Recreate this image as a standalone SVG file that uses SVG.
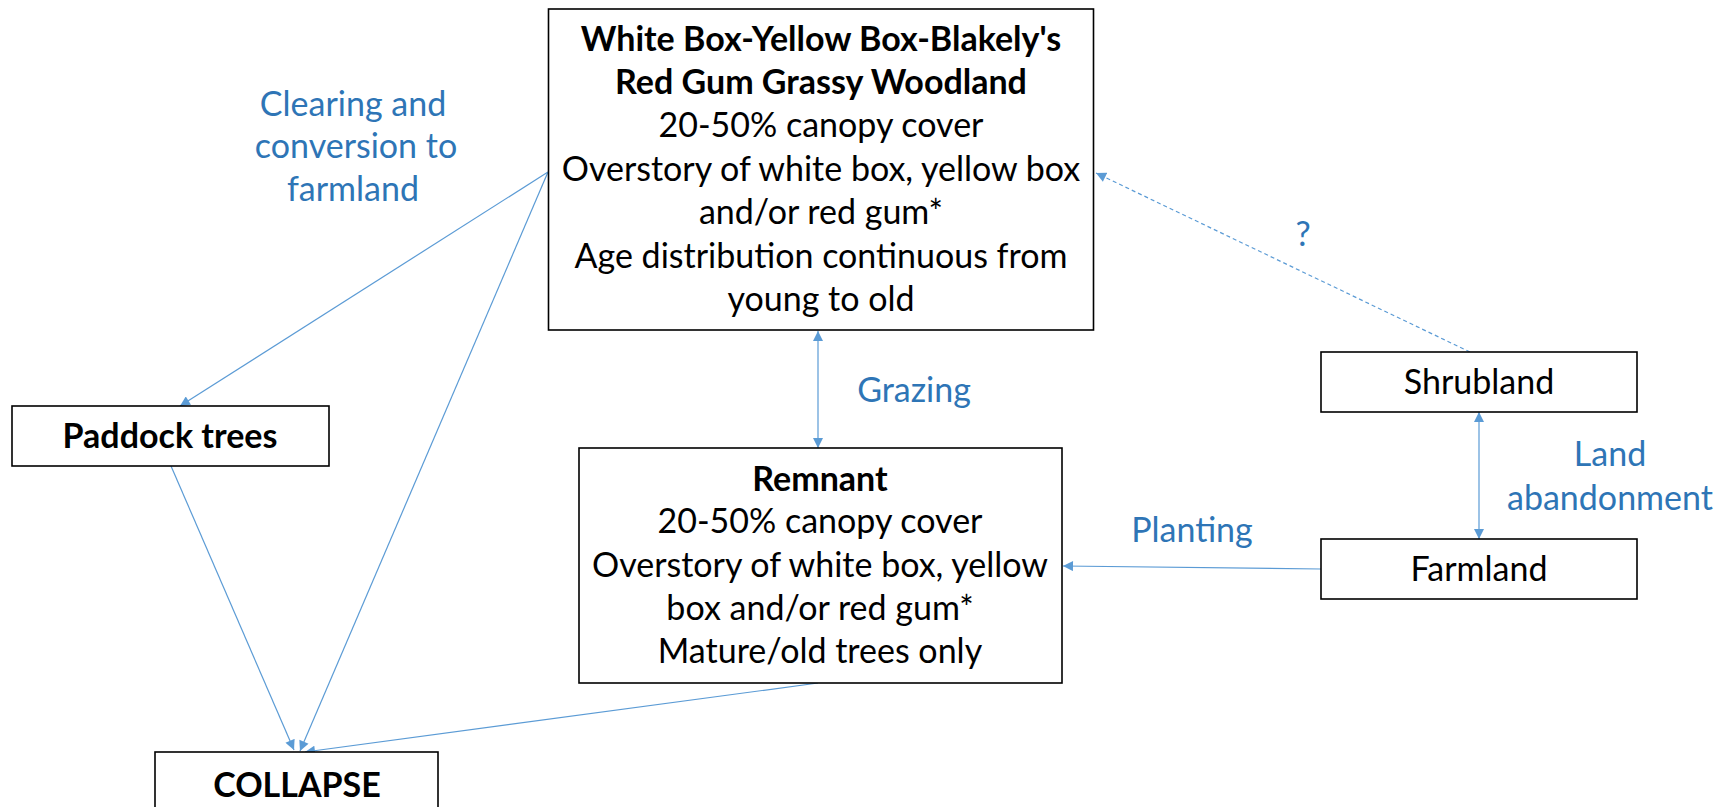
<svg xmlns="http://www.w3.org/2000/svg" width="1727" height="807" viewBox="0 0 1727 807">
<style>
.box{fill:#fff;stroke:#000;stroke-width:1.6}
.t{font-family:Lato,"Liberation Sans",sans-serif;font-size:34px;fill:#000;text-anchor:middle}
.b{font-weight:bold}
.lbl{font-family:Lato,"Liberation Sans",sans-serif;font-size:34px;fill:#2E75B6;text-anchor:middle}
.c{fill:none;stroke:#5B9BD5;stroke-width:1.2}
.d{stroke-dasharray:4 3}
</style>
<defs>
<marker id="ah" viewBox="0 0 10 10" refX="10" refY="5" markerWidth="11" markerHeight="10" markerUnits="userSpaceOnUse" orient="auto-start-reverse">
<path d="M0,0 L10,5 L0,10 z" fill="#5B9BD5"/>
</marker>
</defs>
<rect width="1727" height="807" fill="#fff"/>
<g id="connectors">
<line class="c" x1="548" y1="172" x2="180" y2="406" marker-end="url(#ah)"/>
<line class="c" x1="548" y1="172" x2="300" y2="751" marker-end="url(#ah)"/>
<line class="c" x1="171" y1="466" x2="294" y2="750" marker-end="url(#ah)"/>
<line class="c" x1="818" y1="683" x2="305" y2="752" marker-end="url(#ah)"/>
<line class="c" x1="818" y1="331" x2="818" y2="448" marker-start="url(#ah)" marker-end="url(#ah)"/>
<line class="c d" x1="1470" y1="352" x2="1096" y2="173" marker-end="url(#ah)"/>
<line class="c" x1="1479" y1="412" x2="1479" y2="539" marker-start="url(#ah)" marker-end="url(#ah)"/>
<line class="c" x1="1321" y1="569" x2="1063" y2="566" marker-end="url(#ah)"/>
</g>
<g id="labels">
<text class="lbl" x="353" y="116">Clearing and</text>
<text class="lbl" x="356" y="158">conversion to</text>
<text class="lbl" x="353" y="201">farmland</text>
<text class="lbl" x="1303" y="246">?</text>
<text class="lbl" x="914" y="402">Grazing</text>
<text class="lbl" x="1610" y="466">Land</text>
<text class="lbl" x="1610" y="510">abandonment</text>
<text class="lbl" x="1192" y="542">Planting</text>
</g>
<g id="woodland">
<rect class="box" x="548.5" y="9" width="545" height="321"/>
<text class="t b" x="821" y="51">White Box-Yellow Box-Blakely's</text>
<text class="t b" x="821" y="94">Red Gum Grassy Woodland</text>
<text class="t" x="821" y="137">20-50% canopy cover</text>
<text class="t" x="821" y="181">Overstory of white box, yellow box</text>
<text class="t" x="821" y="224">and/or red gum*</text>
<text class="t" x="821" y="268">Age distribution continuous from</text>
<text class="t" x="821" y="311">young to old</text>
</g>
<g id="remnant">
<rect class="box" x="579" y="448" width="483" height="235"/>
<text class="t b" x="820" y="491">Remnant</text>
<text class="t" x="820" y="533">20-50% canopy cover</text>
<text class="t" x="820" y="577">Overstory of white box, yellow</text>
<text class="t" x="820" y="620">box and/or red gum*</text>
<text class="t" x="820" y="663">Mature/old trees only</text>
</g>
<g id="paddock">
<rect class="box" x="12" y="406" width="317" height="60"/>
<text class="t b" x="170" y="448">Paddock trees</text>
</g>
<g id="collapse">
<rect class="box" x="155" y="752" width="283" height="70"/>
<text class="t b" x="297" y="797">COLLAPSE</text>
</g>
<g id="shrubland">
<rect class="box" x="1321" y="352" width="316" height="60"/>
<text class="t" x="1479" y="394">Shrubland</text>
</g>
<g id="farmland">
<rect class="box" x="1321" y="539" width="316" height="60"/>
<text class="t" x="1479" y="581">Farmland</text>
</g>
</svg>
